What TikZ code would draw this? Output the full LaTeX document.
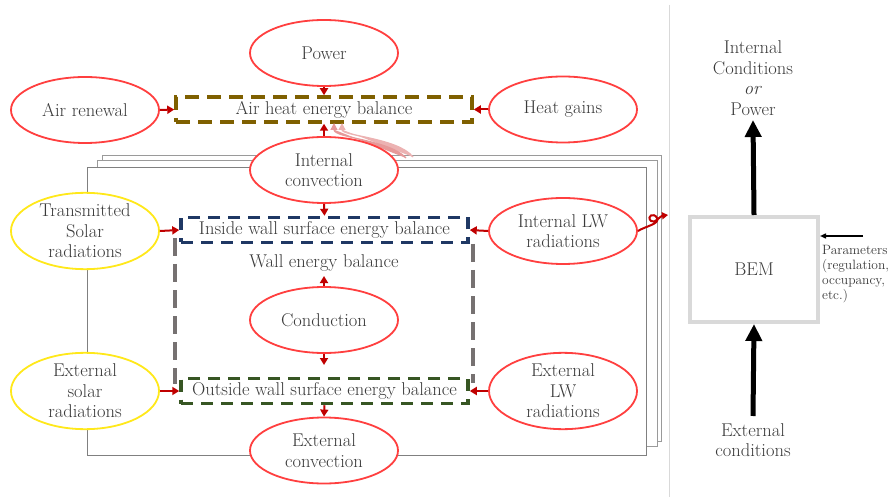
\documentclass[tikz,border=0pt]{standalone}
\usepackage{fontspec}
\usetikzlibrary{arrows.meta,shapes.geometric}
\definecolor{txt}{HTML}{3A3A3A}
\definecolor{ered}{HTML}{FF3F3F}
\definecolor{eyel}{HTML}{FFE81A}
\definecolor{ared}{HTML}{C00000}
\definecolor{brownb}{HTML}{7F6000}
\definecolor{navyb}{HTML}{1F3864}
\definecolor{greenb}{HTML}{375623}
\definecolor{grayb}{HTML}{767171}
\definecolor{pagec}{HTML}{9A9A9A}
\definecolor{sepc}{HTML}{D9D9D9}
\tikzset{
  redell/.style={ellipse, draw=ered, line width=1.8pt, fill=white, minimum width=148pt, minimum height=66pt, inner sep=0pt, align=center, text=txt},
  yelell/.style={redell, draw=eyel},
  balbox/.style={rectangle, line width=3.5pt, minimum height=25pt, inner sep=0pt, text=txt},
  redarr/.style={draw=ared, line width=2pt, -{Triangle[length=7pt,width=8pt]}},
  fadearr/.style={line width=1.3pt, -{Triangle[length=7pt,width=7pt]}},
  bigarr/.style={draw=black, line width=5pt, -{Triangle[length=17pt,width=16pt]}},
  pagebox/.style={draw=pagec, line width=1pt, fill=white}
}
\begin{document}
\begin{tikzpicture}[x=1pt,y=-1pt, font=\fontsize{18.5}{20.5}\selectfont]
\useasboundingbox (0,0) rectangle (890,502);

% stacked pages
\draw[pagebox] (102,156) rectangle (661,441);
\draw[pagebox] (97,161) rectangle (657,446);
\draw[pagebox, draw=gray] (87,168) rectangle (646,455);

% separator
\draw[sepc, line width=1pt] (669,5) -- (669,497);

% wall box (sides visible between the surface boxes)
\coordinate (wl1) at (175,238);
\coordinate (wl2) at (175,384);
\coordinate (wr1) at (473,244);
\coordinate (wr2) at (473,383);
\draw[grayb, line width=3.5pt, dash pattern=on 18pt off 8pt] (wl1) -- (wl2);
\draw[grayb, line width=3.5pt, dash pattern=on 18pt off 8pt] (wr1) -- (wr2);
\node[text=txt] (wallt) at (324,263) {Wall energy balance};

% balance boxes
\node[balbox, draw=brownb, dash pattern=on 14pt off 8pt, minimum width=296pt] (airb) at (324,109.5) {Air heat energy balance};
\node[balbox, draw=navyb, dash pattern=on 12pt off 8pt, minimum width=287pt] (inb) at (324.5,230) {Inside wall surface energy balance};
\node[balbox, draw=greenb, dash pattern=on 12pt off 8pt, minimum width=287pt] (outb) at (324.5,391) {Outside wall surface energy balance};

% faded arrows
\coordinate (f1) at (406,158);
\coordinate (f2) at (413,157);
\coordinate (g1) at (334,123);
\coordinate (g2) at (342,123);
\draw[fadearr, draw=ared!30, fill=ared!30] (f2) .. controls (398,138) and (342,136) .. (g2);
\draw[fadearr, draw=ared!40, fill=ared!40] (f1) .. controls (390,140) and (334,138) .. (g1);

% ellipses
\node[redell] (pow) at (324,53) {Power};
\node[redell] (airr) at (85,110) {Air renewal};
\node[redell] (heat) at (563,109.5) {Heat gains};
\node[redell] (ic) at (324,170) {Internal\\convection};
\node[yelell] (ts) at (85,231) {Transmitted\\Solar\\radiations};
\node[redell] (ilw) at (563,231) {Internal LW\\radiations};
\node[redell] (cond) at (324,320) {Conduction};
\node[yelell] (es) at (85,391) {External\\solar\\radiations};
\node[redell] (elw) at (563,391) {External\\LW\\radiations};
\node[redell] (ec) at (324,450.5) {External\\convection};

% red arrows
\draw[redarr] (pow.south) -- (airb.north);
\draw[redarr] (airr.east) -- (airb.west);
\draw[redarr] (heat.west) -- (airb.east);
\draw[redarr] (ic.north) -- (airb.south);
\draw[redarr] (ic.south) -- (inb.north);
\draw[redarr] (ts.east) -- (inb.west);
\draw[redarr] (ilw.west) -- (inb.east);
\coordinate (cu) at (324,276);
\coordinate (cd) at (324,365);
\draw[redarr] (cond.north) -- (cu);
\draw[redarr] (cond.south) -- (cd);
\draw[redarr] (es.east) -- (outb.west);
\draw[redarr] (elw.west) -- (outb.east);
\draw[redarr] (outb.south) -- (ec.north);
\coordinate (curl) at (668,215);
\draw[draw=ared, line width=2pt, line join=round, -{Triangle[length=6pt,width=7pt]}]
  (ilw.east) .. controls (646,226) and (660,224) .. (657,218)
  .. controls (654,212) and (646,216) .. (651,221)
  .. controls (655,224) and (660,216) .. (curl);

% right side
\node[draw=sepc, line width=4pt, minimum width=128pt, minimum height=105pt, inner sep=0pt, text=txt] (bem) at (754,269.5) {BEM};
\node[align=center, text=txt] (outt) at (753,78) {Internal\\Conditions\\\textit{or}\\Power};
\node[align=center, text=txt] (extc) at (753,440) {External\\conditions};
\coordinate (topc) at (753,120);
\coordinate (botc) at (753,416);
\draw[bigarr] (bem.north) -- (topc);
\draw[bigarr] (botc) -- (bem.south);
\coordinate (parc) at (863,236);
\coordinate (pare) at (820,236);
\draw[black, line width=1.4pt, -{Triangle[length=6pt,width=5pt]}] (parc) -- (pare);
\node[anchor=north west, align=left, text=txt, font=\fontsize{13.5}{15}\selectfont, inner sep=0pt] (part) at (822,245) {Parameters\\(regulation,\\occupancy,\\etc.)};
\end{tikzpicture}
\end{document}
